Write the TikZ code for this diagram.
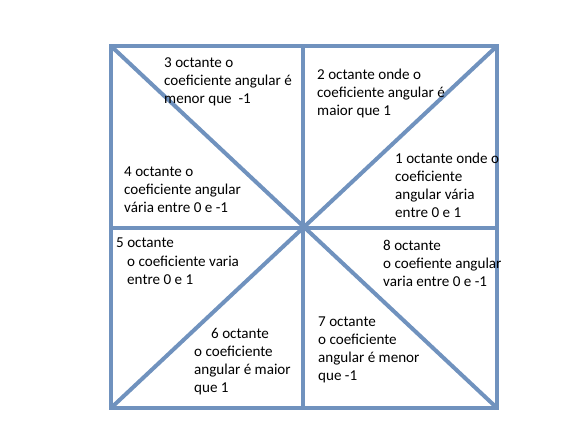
\documentclass[tikz,border=0pt]{standalone}
\usepackage{fontspec}
\setmainfont{Carlito}
\definecolor{lineblue}{RGB}{112,146,190}
\begin{document}
\begin{tikzpicture}[x=1pt,y=-1pt,
  frame/.style={draw=lineblue,line width=4pt,line join=miter},
  txt/.style={anchor=base west,inner sep=0pt,font=\fontsize{15.1pt}{18pt}\selectfont,text=black}]
\useasboundingbox (0,0) rectangle (585,423);
\coordinate (tl) at (111,46);
\coordinate (tr) at (497,46);
\coordinate (bl) at (111,408);
\coordinate (br) at (497,408);
\coordinate (c) at (303,228);
\coordinate (tm) at (303,46);
\coordinate (bm) at (303,408);
\coordinate (lm) at (111,228);
\coordinate (rm) at (497,228);
\draw[frame] (tl) rectangle (br);
\draw[frame] (tm) -- (bm);
\draw[frame] (lm) -- (rm);
\draw[frame] (tl) -- (br);
\draw[frame] (tr) -- (bl);
% octant 3
\node[txt] (o3a) at (164,67) {3 octante o};
\node[txt] (o3b) at (164,85) {coeficiente angular é};
\node[txt] (o3c) at (164,103) {menor que\ \ -1};
% octant 4
\node[txt] (o4a) at (124,176) {4 octante o};
\node[txt] (o4b) at (124,194) {coeficiente angular};
\node[txt] (o4c) at (124,212) {vária entre 0 e -1};
% octant 2
\node[txt] (o2a) at (317,79) {2 octante onde o};
\node[txt] (o2b) at (317,97) {coeficiente angular é};
\node[txt] (o2c) at (317,115) {maior que 1};
% octant 1
\node[txt] (o1a) at (395,163) {1 octante onde o};
\node[txt] (o1b) at (395,181) {coeficiente};
\node[txt] (o1c) at (395,199) {angular vária};
\node[txt] (o1d) at (395,217) {entre 0 e 1};
% octant 5
\node[txt] (o5a) at (116,247) {5 octante};
\node[txt] (o5b) at (127,266) {o coeficiente varia};
\node[txt] (o5c) at (127,284) {entre 0 e 1};
% octant 6
\node[txt] (o6a) at (211,338) {6 octante};
\node[txt] (o6b) at (194,356) {o coeficiente};
\node[txt] (o6c) at (194,374) {angular é maior};
\node[txt] (o6d) at (194,392) {que 1};
% octant 8
\node[txt] (o8a) at (383,250) {8 octante};
\node[txt] (o8b) at (383,268) {o coefiente angular};
\node[txt] (o8c) at (383,286) {varia entre 0 e -1};
% octant 7
\node[txt] (o7a) at (318,326) {7 octante};
\node[txt] (o7b) at (318,344) {o coeficiente};
\node[txt] (o7c) at (318,362) {angular é menor};
\node[txt] (o7d) at (318,380) {que -1};
\end{tikzpicture}
\end{document}
